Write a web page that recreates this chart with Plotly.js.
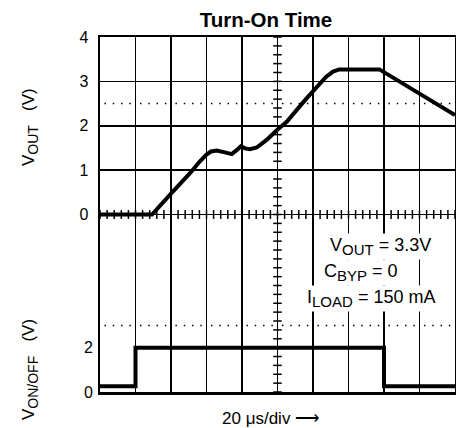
<!DOCTYPE html>
<html>
<head>
<meta charset="utf-8">
<script src="https://cdn.plot.ly/plotly-3.0.1.min.js"></script>
<style>html,body{margin:0;padding:0;background:#fff;}#chart{width:456px;height:428px;}</style>
</head>
<body>
<div id="chart"></div>
<script>
// Time axis in microseconds (20 us/div, 10 divisions)
var voutTime = [0, 29.3, 40, 50.7, 56.3, 60, 62.5, 65.7, 70.4, 74.2, 77.0, 79.4, 81.7, 84.5, 88.3, 93.9, 99.6, 105.2, 116, 127.3, 131.3, 134.8, 157.4, 200];
var voutVolts = [0, 0, 0.47, 0.93, 1.2, 1.35, 1.42, 1.44, 1.40, 1.36, 1.45, 1.54, 1.49, 1.47, 1.51, 1.68, 1.90, 2.09, 2.6, 3.10, 3.22, 3.27, 3.27, 2.24];
var vonTime = [0, 20, 20, 160, 160, 200];
var vonVolts = [0.26, 0.26, 2, 2, 0.26, 0.26];
var voutTickVals = [0, 1, 2, 3, 4];
var vonTickVals = [0, 2];

var FONT = '"Liberation Sans", Arial, sans-serif';

var shapes = [];
// minor ticks along horizontal centre line
for (var k = 0; k <= 50; k++) {
  shapes.push({type:'line', xref:'x', yref:'y', x0:k*4, x1:k*4, y0:-0.1, y1:0.1, line:{color:'black', width:1.5}, layer:'below'});
}
// minor ticks along vertical centre line
for (var j = -20; j <= 20; j++) {
  shapes.push({type:'line', xref:'x', yref:'y', x0:97.6, x1:102.4, y0:j*0.2, y1:j*0.2, line:{color:'black', width:1.5}, layer:'below'});
}
// dotted reference lines
[2.5, -2.5].forEach(function(yy){
  for (var i = 0; i < 10; i++) {
    shapes.push({type:'line', xref:'x', yref:'y', x0:i*20+2.5, x1:i*20+17.6, y0:yy, y1:yy, line:{color:'black', width:1.5, dash:'1.5px,6.8px'}, layer:'below'});
  }
});

var traces = [
  {x: voutTime, y: voutVolts, type:'scatter', mode:'lines', line:{color:'black', width:4, simplify:false}, xaxis:'x', yaxis:'y', hoverinfo:'skip'},
  {x: vonTime, y: vonVolts, type:'scatter', mode:'lines', line:{color:'black', width:4, simplify:false}, xaxis:'x', yaxis:'y2', hoverinfo:'skip'}
];

function sub(t, px) { return '<sub><span style="font-size:' + px + 'px">' + t + '</span></sub>'; }

var layout = {
  width: 456, height: 428,
  margin: {l:100, r:1, t:37, b:36, pad:0},
  paper_bgcolor:'white', plot_bgcolor:'white',
  showlegend:false,
  font:{family:FONT, color:'black'},
  title:{text:'<b>Turn-On Time</b>', font:{family:FONT, size:20.5, color:'black'}, xref:'container', yref:'container', x:266/456, xanchor:'center', y:1-20/428, yanchor:'middle'},
  xaxis:{range:[0,200], dtick:20, tick0:0, showgrid:true, gridcolor:'black', gridwidth:1.7, showticklabels:false, ticks:'', zeroline:false, showline:true, mirror:true, linecolor:'black', linewidth:2.5, fixedrange:true},
  yaxis:{range:[-4,4], dtick:1, tick0:0, showgrid:true, gridcolor:'black', gridwidth:1.7, tickmode:'array', tickvals:voutTickVals, ticktext:voutTickVals.map(String), ticks:'', ticklabelstandoff:6, tickfont:{family:FONT, size:16, color:'black'}, zeroline:false, showline:true, mirror:true, linecolor:'black', linewidth:2.5, fixedrange:true},
  yaxis2:{range:[0,16], overlaying:'y', side:'left', showgrid:false, zeroline:false, tickmode:'array', tickvals:vonTickVals, ticktext:vonTickVals.map(String), ticks:'', ticklabelstandoff:6, tickfont:{family:FONT, size:16, color:'black'}, showline:false, fixedrange:true},
  shapes: shapes,
  annotations:[
    {text:'V' + sub('OUT', 14) + '   (V)', xref:'paper', yref:'paper', x:(30-100)/355, y:(392-127)/355, textangle:-90, showarrow:false, xanchor:'center', yanchor:'middle', font:{family:FONT, size:17, color:'black'}},
    {text:'V' + sub('ON/OFF', 14) + '   (V)', xref:'paper', yref:'paper', x:(30-100)/355, y:(392-370)/355, textangle:-90, showarrow:false, xanchor:'center', yanchor:'middle', font:{family:FONT, size:17, color:'black'}},
    {text:'20 μs/div ⟶', xref:'paper', yref:'paper', x:(270-100)/355, y:(392-419)/355, showarrow:false, xanchor:'center', yanchor:'middle', font:{family:FONT, size:17, color:'black'}},
    {text:'V' + sub('OUT', 15) + ' = 3.3V', xref:'paper', yref:'paper', x:(328-100)/355, y:(392-246)/355, showarrow:false, xanchor:'left', yanchor:'middle', bgcolor:'white', borderpad:1, font:{family:FONT, size:18, color:'black'}},
    {text:'C' + sub('BYP', 15) + ' = 0', xref:'paper', yref:'paper', x:(322-100)/355, y:(392-272)/355, showarrow:false, xanchor:'left', yanchor:'middle', bgcolor:'white', borderpad:1, font:{family:FONT, size:18, color:'black'}},
    {text:'I' + sub('LOAD', 15) + ' = 150 mA', xref:'paper', yref:'paper', x:(305-100)/355, y:(392-298)/355, showarrow:false, xanchor:'left', yanchor:'middle', bgcolor:'white', borderpad:1, font:{family:FONT, size:18, color:'black'}}
  ]
};

Plotly.newPlot('chart', traces, layout, {staticPlot:true, displayModeBar:false});
</script>
</body>
</html>
